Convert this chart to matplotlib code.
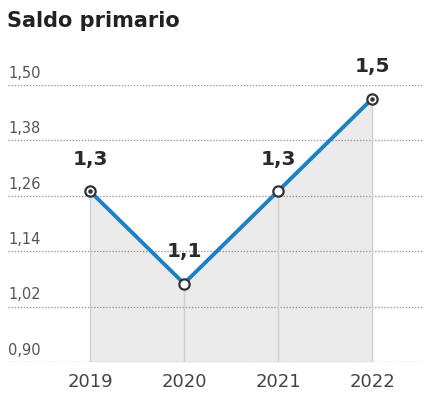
import numpy as np
import matplotlib.pyplot as plt

years = ["2019", "2020", "2021", "2022"]
saldo = [1.27, 1.07, 1.27, 1.47]
dotted_marker = [True, False, False, True]
yticks = [0.90, 1.02, 1.14, 1.26, 1.38, 1.50]

plt.rcParams['font.family'] = ['DejaVu Sans']

fig = plt.figure(figsize=(4.24, 3.96), dpi=100)
ax = fig.add_axes([8/424, 34/396, 416/424, 277/396])

x = np.arange(len(years))
ymin, ymax = 0.90, 1.50

# grey area under the line and vertical guides
ax.fill_between(x, saldo, ymin, color="#ebebeb", zorder=1, lw=0)
ax.vlines(x, ymin, saldo, color="#cfcfcf", lw=1, zorder=2)

# dotted gridlines with labels sitting on top of them
for t in yticks:
    ax.axhline(t, color="#9a9a9a", lw=1, ls=(0, (1, 1.2)), zorder=1.5)
    ax.annotate(f"{t:.2f}".replace(".", ","), xy=(0, t),
                xycoords=ax.get_yaxis_transform(), xytext=(0, 3),
                textcoords="offset points", ha="left", va="bottom",
                fontsize=10.5, color="#555555")

ax.plot(x, saldo, color="#1b80c4", lw=2.8, zorder=3, solid_capstyle="round")
ax.scatter(x, saldo, s=55, facecolor="white", edgecolor="#333333",
           linewidth=1.6, zorder=4)
for xi, v, d in zip(x, saldo, dotted_marker):
    if d:
        ax.scatter([xi], [v], s=5, color="#333333", zorder=5)
    ax.annotate(f"{v:.1f}".replace(".", ","), xy=(xi, v), xytext=(0, 23),
                textcoords="offset points", ha="center", va="center",
                fontsize=14.5, fontweight="bold", color="#2a2a2a")

ax.set_xlim(-0.872, 3.553)
ax.set_ylim(ymin, ymax)
ax.set_xticks(x)
ax.set_xticklabels(years, fontsize=13, color="#444444")
ax.tick_params(axis="x", length=0, pad=8)
ax.set_yticks([])
for s in ax.spines.values():
    s.set_visible(False)

fig.text(7/424, 1 - 21/396, "Saldo primario", fontsize=15, fontweight="bold",
         color="#222222", ha="left", va="center")

fig.savefig("out.png", dpi=100)
